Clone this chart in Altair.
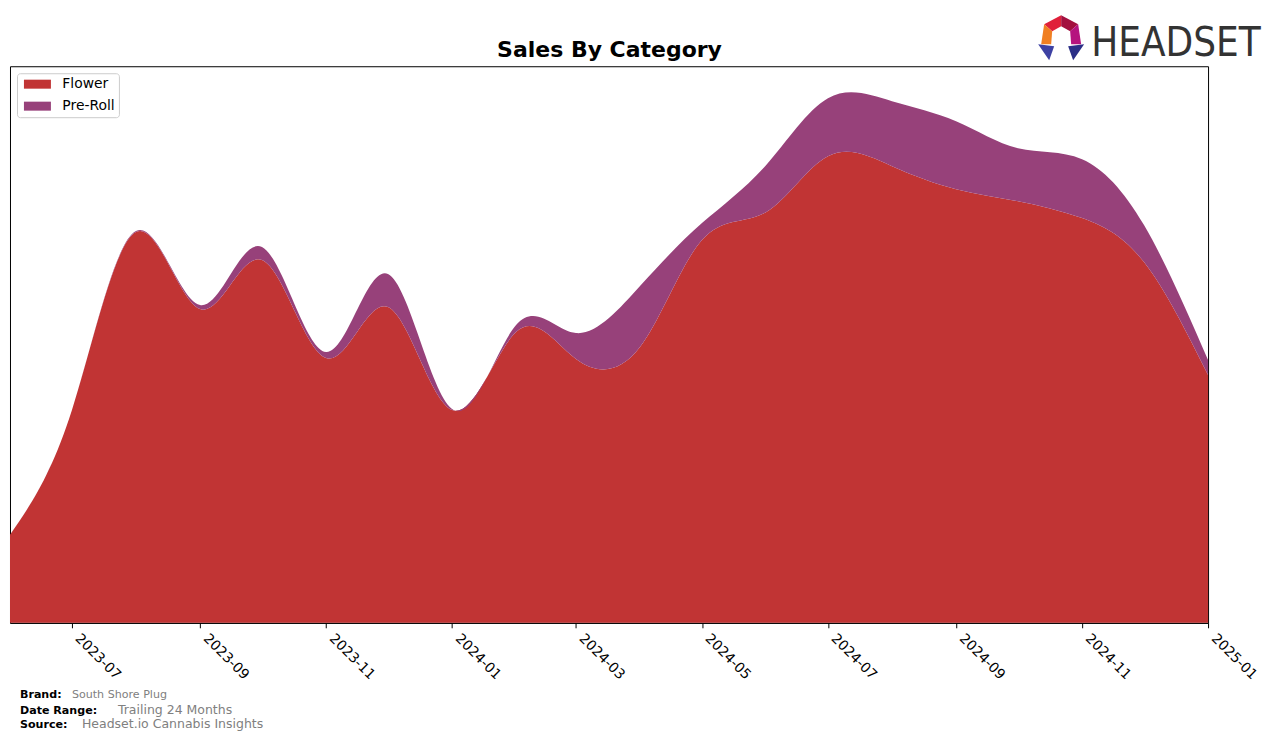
import altair as alt
import pandas as pd

dates = ["2023-06-01", "2023-07-01", "2023-08-01", "2023-09-01", "2023-10-01",
         "2023-11-01", "2023-12-01", "2024-01-01", "2024-02-01", "2024-03-01",
         "2024-04-01", "2024-05-01", "2024-06-01", "2024-07-01", "2024-08-01",
         "2024-09-01", "2024-10-01", "2024-11-01", "2024-12-01", "2025-01-01"]
flower = [88, 213, 391, 314, 363, 265, 316, 213, 291, 264,
          276, 383, 411, 467, 457, 434, 422, 405, 361, 248]
preroll = [0, 0, 1, 4, 13, 6, 33, 1, 7, 26,
           61, 17, 47, 58, 65, 68, 53, 59, 37, 15]
categories = ["Flower", "Pre-Roll"]
colors = ["#c13434", "#97417a"]
tick_dates = ["2023-07", "2023-09", "2023-11", "2024-01", "2024-03",
              "2024-05", "2024-07", "2024-09", "2024-11", "2025-01"]

rows = []
for d, f, p in zip(dates, flower, preroll):
    rows.append({"date": d, "category": "Flower", "sales": f, "ord": 0})
    rows.append({"date": d, "category": "Pre-Roll", "sales": p, "ord": 1})
df = pd.DataFrame(rows)
one = pd.DataFrame({"k": [0]})

W, H = 1199, 557
FONT = "DejaVu Sans"

tick_vals = [alt.DateTime(year=int(t[:4]), month=int(t[5:]), date=1, utc=True) for t in tick_dates]

area = alt.Chart(df).mark_area(interpolate="natural", opacity=1).encode(
    x=alt.X("date:T",
            scale=alt.Scale(type="utc",
                            domain=[alt.DateTime(year=2023, month=6, date=1, utc=True),
                                    alt.DateTime(year=2025, month=1, date=1, utc=True)]),
            axis=alt.Axis(values=tick_vals,
                          labelExpr="utcFormat(datum.value, '%Y-%m')",
                          labelAngle=45, labelAlign="left", labelBaseline="bottom",
                          labelFontSize=13.9, labelFont=FONT, labelColor="black",
                          labelPadding=13, tickColor="black", tickSize=5,
                          domainColor="black", grid=False, title=None,
                          labelOverlap=False)),
    y=alt.Y("sales:Q", stack="zero", scale=alt.Scale(domain=[0, 557], nice=False),
            axis=None),
    color=alt.Color("category:N",
                    scale=alt.Scale(domain=categories, range=colors),
                    legend=alt.Legend(title=None, orient="top-left", offset=7,
                                      labelFont=FONT, labelFontSize=13.9,
                                      labelColor="black",
                                      symbolType="M-2.25,-0.75L2.25,-0.75L2.25,0.75L-2.25,0.75Z",
                                      symbolSize=144, symbolStrokeWidth=0,
                                      symbolOpacity=1, symbolOffset=9.5,
                                      strokeColor="#cccccc", fillColor="white",
                                      padding=4, cornerRadius=3, rowPadding=7,
                                      labelOffset=18)),
    order=alt.Order("ord:Q"),
)

def txt(text, x, y, size, color="black", weight="normal", align="left", font=FONT):
    return alt.Chart(one).mark_text(align=align, baseline="alphabetic", fontSize=size,
                                    fontWeight=weight, color=color, font=font).encode(
        x=alt.value(x), y=alt.value(y), text=alt.value(text))

title = txt("Sales By Category", 600, -9, 22, weight="bold", align="center")
f1 = txt("Brand:", 10, 632, 11.1, weight="bold")
f1b = txt("South Shore Plug", 62, 632, 11.1, color="gray")
f2 = txt("Date Range:", 10, 648, 11.1, weight="bold")
f2b = txt("Trailing 24 Months", 108, 648, 12.5, color="gray")
f3 = txt("Source:", 10, 662, 11.1, weight="bold")
f3b = txt("Headset.io Cannabis Insights", 72, 662, 12.5, color="gray")
logo_text = txt("HEADSET", 1082, -10, 40, color="#333333",
                font="DejaVu Sans Condensed, DejaVu Sans, sans-serif")

icon_parts = [
    ("M0,-1.023L-0.773,-0.614L-0.409,-0.295L0,-0.523Z", "#e0203a"),
    ("M0,-1.023L0.773,-0.614L0.409,-0.295L0,-0.523Z", "#a3103f"),
    ("M-0.773,-0.614L-0.909,0.295L-0.455,0.295L-0.409,-0.295Z", "#f07f22"),
    ("M0.773,-0.614L0.909,0.295L0.455,0.295L0.409,-0.295Z", "#b5147e"),
    ("M-1.045,0.295L-0.318,0.386L-0.545,1.023Z", "#3d41a3"),
    ("M0.318,0.386L1.045,0.295L0.545,1.023Z", "#2b2f87"),
]
icons = [alt.Chart(one).mark_point(shape=p, filled=True, size=1936, opacity=1,
                                   strokeWidth=0, color=c).encode(
    x=alt.value(1052), y=alt.value(-28.5)) for p, c in icon_parts]

chart = alt.layer(area, title, f1, f1b, f2, f2b, f3, f3b, logo_text, *icons).properties(
    width=W, height=H,
    padding={"left": 2, "top": 58, "right": 60, "bottom": 110},
    autosize=alt.AutoSizeParams(type="none"),
).configure(background="white",
            view=alt.ViewConfig(stroke="black", strokeWidth=1))

chart.save("out.html", embed_options={"renderer": "svg", "actions": False})
